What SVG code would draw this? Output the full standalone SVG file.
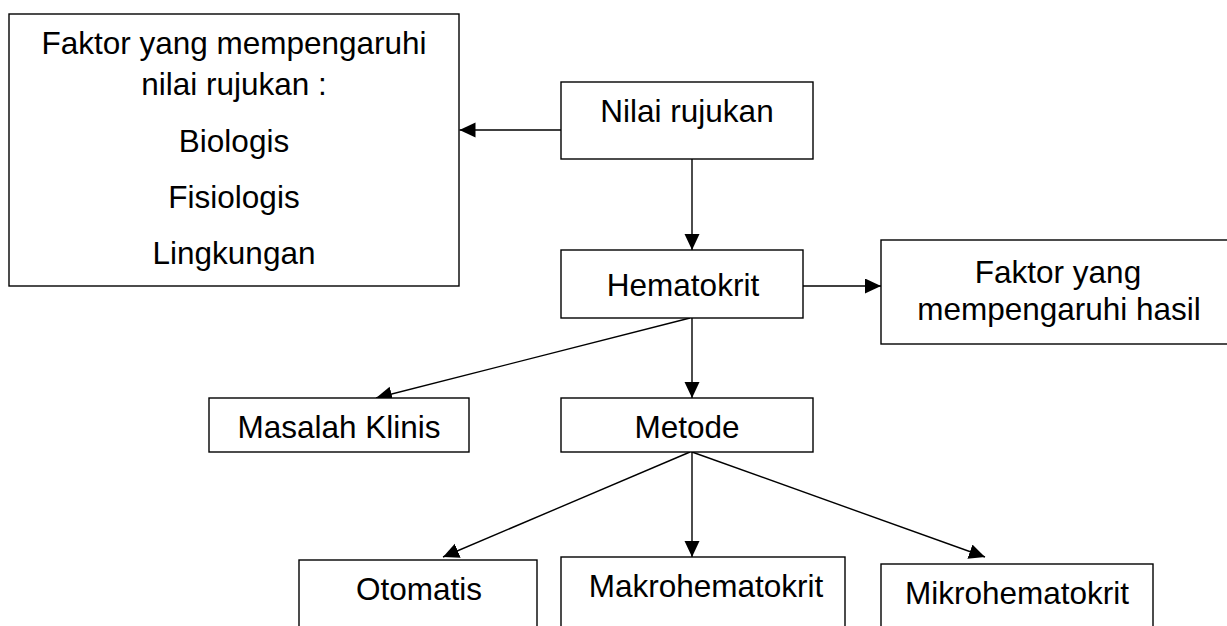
<svg xmlns="http://www.w3.org/2000/svg" width="1227" height="626" viewBox="0 0 1227 626">
<defs>
<style>
.box{fill:#fff;stroke:#000;stroke-width:1.4}
.t{font-family:"Liberation Sans",Arial,sans-serif;font-size:31.5px;fill:#000;text-anchor:middle}
.c{stroke:#000;stroke-width:1.4;fill:none;marker-end:url(#ah)}
</style>
<marker id="ah" markerUnits="userSpaceOnUse" markerWidth="17" markerHeight="16" refX="16" refY="7.5" orient="auto">
<path d="M0,0 L16,7.5 L0,15 z" fill="#000"/>
</marker>
</defs>
<rect width="1227" height="626" fill="#fff"/>
<g id="connectors">
<line class="c" x1="561" y1="130" x2="459.5" y2="130"/>
<line class="c" x1="692" y1="159" x2="692" y2="250"/>
<line class="c" x1="803" y1="286" x2="881" y2="286"/>
<line class="c" x1="690" y1="318" x2="376" y2="398"/>
<line class="c" x1="692" y1="318" x2="692" y2="398"/>
<line class="c" x1="690" y1="452" x2="443" y2="557"/>
<line class="c" x1="692" y1="452" x2="692" y2="557"/>
<line class="c" x1="692" y1="452" x2="985" y2="557"/>
</g>
<g id="faktor-nilai">
<rect class="box" x="9" y="14" width="450" height="272"/>
<text class="t" x="234" y="54">Faktor yang mempengaruhi</text>
<text class="t" x="234" y="95">nilai rujukan :</text>
<text class="t" x="234" y="152">Biologis</text>
<text class="t" x="234" y="208">Fisiologis</text>
<text class="t" x="234" y="264">Lingkungan</text>
</g>
<g id="nilai-rujukan">
<rect class="box" x="561" y="82" width="252" height="77"/>
<text class="t" x="687" y="122">Nilai rujukan</text>
</g>
<g id="hematokrit">
<rect class="box" x="561" y="250" width="242" height="68"/>
<text class="t" x="683" y="296">Hematokrit</text>
</g>
<g id="faktor-hasil">
<rect class="box" x="881" y="240" width="360" height="104"/>
<text class="t" x="1058" y="283">Faktor yang</text>
<text class="t" x="1059" y="320">mempengaruhi hasil</text>
</g>
<g id="masalah-klinis">
<rect class="box" x="209" y="398" width="260" height="54"/>
<text class="t" x="339" y="438">Masalah Klinis</text>
</g>
<g id="metode">
<rect class="box" x="561" y="398" width="252" height="54"/>
<text class="t" x="687" y="438">Metode</text>
</g>
<g id="otomatis">
<rect class="box" x="299" y="560" width="238" height="90"/>
<text class="t" x="419" y="600">Otomatis</text>
</g>
<g id="makrohematokrit">
<rect class="box" x="561" y="557" width="284" height="90"/>
<text class="t" x="706" y="597">Makrohematokrit</text>
</g>
<g id="mikrohematokrit">
<rect class="box" x="881" y="564" width="272" height="90"/>
<text class="t" x="1017" y="604">Mikrohematokrit</text>
</g>
</svg>
